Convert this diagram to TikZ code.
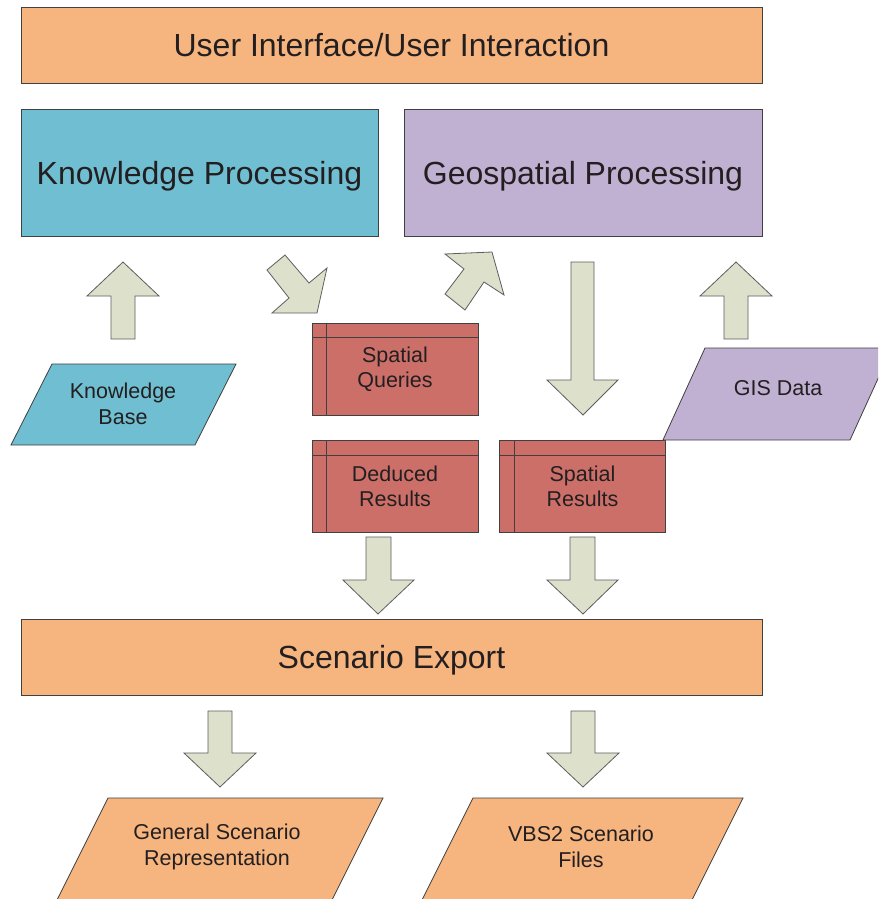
\documentclass[tikz,border=0pt]{standalone}
\usepackage{fontspec}
\setmainfont{Liberation Sans}
\definecolor{orng}{HTML}{F6B47F}
\definecolor{kblue}{HTML}{70BED1}
\definecolor{gpurp}{HTML}{C0B1D3}
\definecolor{rbox}{HTML}{CC6F69}
\definecolor{arr}{HTML}{DDE1CB}
\definecolor{edge}{HTML}{404040}
\definecolor{txt}{HTML}{231F20}
\begin{document}
\begin{tikzpicture}[x=1pt,y=-1pt,
  box/.style={draw=edge,line width=0.9pt,text=txt,inner sep=0pt},
  bigtxt/.style={font=\fontsize{32}{38}\selectfont,text depth=0pt},
  smalltxt/.style={font=\fontsize{21.5}{25.5}\selectfont,align=center,text=txt},
  para/.style={draw=edge,line width=0.8pt,line join=miter},
  blockarrow/.style={draw=edge!85,fill=arr,line width=0.8pt,line join=miter},
  redbox/.style={box,fill=rbox,minimum width=166,minimum height=92,font=\fontsize{21.5}{25.5}\selectfont,align=center}]
\clip (0,0) rectangle (878,899);
\fill[white] (0,0) rectangle (878,899);

% top and middle boxes
\node[box,fill=orng,minimum width=741,minimum height=76,bigtxt] (ui) at (391.5,45) {User Interface/User Interaction};
\node[box,fill=kblue,minimum width=357,minimum height=127,bigtxt] (kp) at (199.5,172.5) {Knowledge Processing};
\node[box,fill=gpurp,minimum width=358,minimum height=127,bigtxt] (gp) at (583,172.5) {Geospatial Processing};
\node[box,fill=orng,minimum width=741,minimum height=76,bigtxt] (se) at (391.5,657) {Scenario Export};

% red data-store boxes
\node[redbox] (sq) at (395,369) {Spatial\\Queries};
\node[redbox] (dr) at (395,486.5) {Deduced\\Results};
\node[redbox] (sr) at (582.5,486.5) {Spatial\\Results};
\foreach \b in {sq,dr,sr}{
  \draw[edge,line width=0.8pt] (\b.north west) ++(15,0) -- ++(0,92);
  \draw[edge,line width=0.8pt] (\b.north west) ++(0,15) -- ++(166,0);
}

% parallelograms
\draw[para,fill=kblue] (52,364) -- (236,364) -- (195,445) -- (11,445) -- cycle;
\node[smalltxt] (kb) at (123,404) {Knowledge\\Base};
\draw[para,fill=gpurp] (705,348) -- (892,348) -- (850,440) -- (663,440) -- cycle;
\node[smalltxt] (gis) at (778,388) {GIS Data};
\draw[para,fill=orng] (108,798) -- (383,798) -- (327,910) -- (52,910) -- cycle;
\node[smalltxt] (gsr) at (217,847) {General Scenario\\Representation};
\draw[para,fill=orng] (473,798) -- (743,798) -- (687,910) -- (417,910) -- cycle;
\node[smalltxt] (vbs) at (581,847) {VBS2 Scenario\\Files};

% block arrows
\draw[blockarrow] (123,262) -- (159,296) -- (135,296) -- (135,339) -- (111,339) -- (111,296) -- (87,296) -- cycle;
\draw[blockarrow] (736,262) -- (772,296) -- (748,296) -- (748,339) -- (724,339) -- (724,296) -- (700,296) -- cycle;
\draw[blockarrow] (571,262) -- (594,262) -- (594,380) -- (618,380) -- (583,415) -- (547,380) -- (571,380) -- cycle;
\draw[blockarrow] (366,537) -- (391,537) -- (391,580) -- (414,580) -- (378,614) -- (343,580) -- (366,580) -- cycle;
\draw[blockarrow] (570,537) -- (595,537) -- (595,580) -- (618,580) -- (583,614) -- (547,580) -- (570,580) -- cycle;
\draw[blockarrow] (208,711) -- (232,711) -- (232,753) -- (256,753) -- (220,787) -- (184,753) -- (208,753) -- cycle;
\draw[blockarrow] (571,711) -- (595,711) -- (595,753) -- (619,753) -- (583,787) -- (547,753) -- (571,753) -- cycle;
\draw[blockarrow] (285,255) -- (309,283) -- (327,268) -- (317,313) -- (272,313) -- (289,298) -- (267,270) -- cycle;
\draw[blockarrow] (445,254) -- (492,252) -- (504,295) -- (484,282) -- (465,310) -- (445,294) -- (464,269) -- cycle;
\end{tikzpicture}
\end{document}
